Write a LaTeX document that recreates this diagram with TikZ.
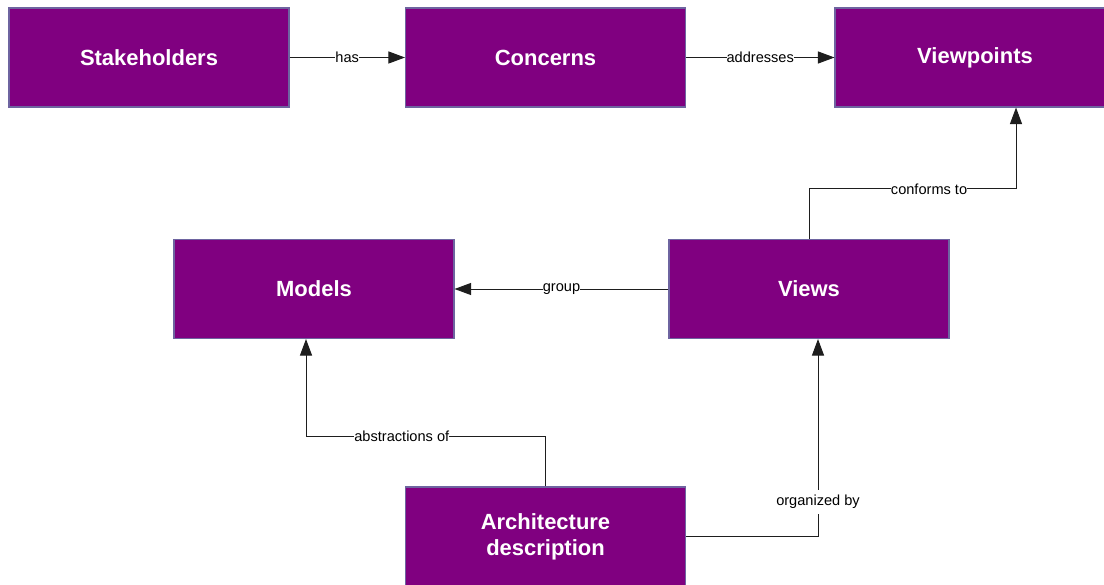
\documentclass[tikz,border=0pt]{standalone}
\usepackage{fontspec}
\setmainfont{Liberation Sans}
\usetikzlibrary{arrows.meta}

\definecolor{boxlila}{RGB}{128,0,128}
\definecolor{boxrand}{RGB}{110,100,160}
\definecolor{linie}{RGB}{30,30,30}

\tikzset{
	kasten/.style={draw=boxrand,line width=0.6pt,fill=boxlila,text=white,
		minimum width=5.6cm,minimum height=1.98cm,align=center,
		font=\fontsize{12.5}{14.8}\selectfont\bfseries},
	pfeil/.style={draw=linie,line width=0.55pt,-{Triangle[length=0.33cm,width=0.24cm]}},
	beschr/.style={fill=white,inner sep=0pt,text=black,
		font=\fontsize{8.3}{10}\selectfont}
}

\begin{document}
\begin{tikzpicture}
			\useasboundingbox (0,0) rectangle (22.08,11.68);
			\clip (0,0) rectangle (22.08,11.68);

			% Obere Reihe
			\node[kasten] (stake) at (2.98,10.53) {Stakeholders};
			\node[kasten] (concerns) at (10.91,10.53) {Concerns};
			\node[kasten] (vp) at (19.5,10.53) {Viewpoints};

			% Mittlere Reihe
			\node[kasten] (models) at (6.28,5.9) {Models};
			\node[kasten] (views) at (16.18,5.9) {Views};

			% Unten
			\node[kasten] (arch) at (10.91,0.95) {Architecture\\description};

			% Verbindungen oben
			\draw[pfeil] (stake.east) -- node[beschr] {has} (concerns.west);
			\draw[pfeil] (concerns.east) -- node[beschr] {addresses} (vp.west);

			% Views nach Viewpoints
			\draw[pfeil] (views.north) -- ++(0,1) -| node[beschr,pos=0.29] {conforms to} ([xshift=0.82cm]vp.south);

			% Views nach Models
			\draw[pfeil] (views.west) -- node[beschr] {group} (models.east);

			% Architecture description
			\draw[pfeil] (arch.north) -- ++(0,1) -| node[beschr,pos=0.3] {abstractions of} ([xshift=-0.16cm]models.south);
			\draw[pfeil] (arch.east) -| node[beschr,pos=0.588,inner sep=3pt] {organized by} ([xshift=0.18cm]views.south);

		\end{tikzpicture}
\end{document}
